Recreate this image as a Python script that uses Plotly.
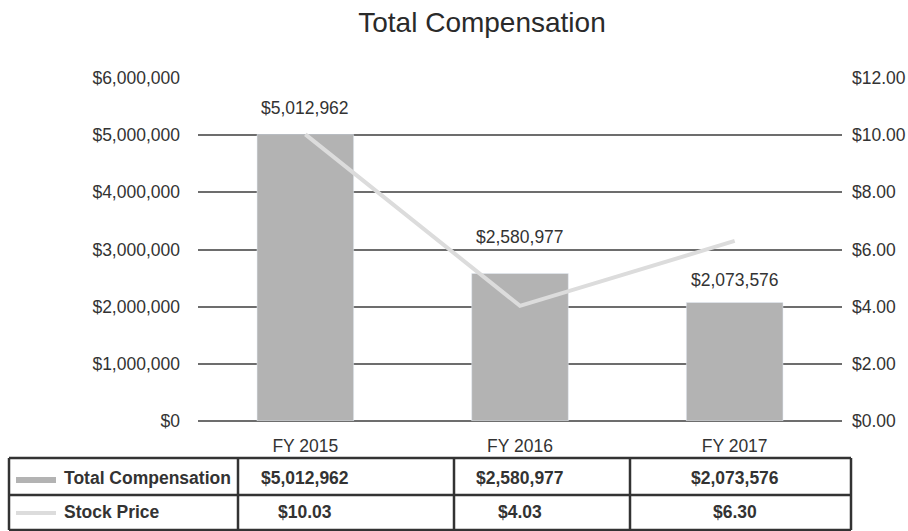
import plotly.graph_objects as go

categories = ["FY 2015", "FY 2016", "FY 2017"]
total_comp = [5012962, 2580977, 2073576]
stock_price = [10.03, 4.03, 6.30]
comp_labels = ["$5,012,962", "$2,580,977", "$2,073,576"]
price_labels = ["$10.03", "$4.03", "$6.30"]
row_names = ["Total Compensation", "Stock Price"]

BAR = "#b3b3b3"
LINE = "#dcdcdc"
TXT = "#333333"
GRID = "#6d6d6d"
FONT = "Liberation Sans, Arial, sans-serif"
FS = 17.5

W, H = 908, 531
L, R, T, B = 198, 66, 78, 110
pw, ph = W - L - R, H - T - B

def ppx(x):
    return (x - L) / pw

def ppy(y):
    return (H - B - y) / ph

fig = go.Figure()
fig.add_trace(go.Bar(x=categories, y=total_comp, marker_color=BAR, width=0.45,
                     name="Total Compensation", yaxis="y"))
fig.add_trace(go.Scatter(x=categories, y=stock_price, mode="lines",
                         line=dict(color=LINE, width=4), name="Stock Price", yaxis="y2"))

label_shifts = [26, 36, 22]
for c, v, t, s in zip(categories, total_comp, comp_labels, label_shifts):
    fig.add_annotation(x=c, y=v, xref="x", yref="y", text=t, showarrow=False,
                       yshift=s, font=dict(size=FS, color=TXT, family=FONT))

col_edges = [9, 238, 454, 630, 851]
row_edges = [458, 495, 530]
shapes = []
for x in col_edges:
    shapes.append(dict(type="line", xref="paper", yref="paper", x0=ppx(x), x1=ppx(x),
                       y0=ppy(row_edges[0]), y1=ppy(row_edges[-1]),
                       line=dict(color="#333333", width=2.5)))
for y in row_edges:
    shapes.append(dict(type="line", xref="paper", yref="paper", x0=ppx(col_edges[0]), x1=ppx(col_edges[-1]),
                       y0=ppy(y), y1=ppy(y), line=dict(color="#333333", width=2.5)))
shapes.append(dict(type="line", xref="paper", yref="paper", x0=ppx(16), x1=ppx(56),
                   y0=ppy(480), y1=ppy(480), line=dict(color=BAR, width=6)))
shapes.append(dict(type="line", xref="paper", yref="paper", x0=ppx(16), x1=ppx(56),
                   y0=ppy(513), y1=ppy(513), line=dict(color=LINE, width=4)))
fig.update_layout(shapes=shapes)

row_mid = [478, 512]
for name, y in zip(row_names, row_mid):
    fig.add_annotation(x=ppx(62), y=ppy(y), xref="paper", yref="paper", text="<b>%s</b>" % name,
                       showarrow=False, xanchor="left", yanchor="middle",
                       font=dict(size=FS, color=TXT, family=FONT))
for c, t in zip(categories, comp_labels):
    fig.add_annotation(x=c, y=ppy(row_mid[0]), xref="x", yref="paper", text="<b>%s</b>" % t,
                       showarrow=False, yanchor="middle", font=dict(size=FS, color=TXT, family=FONT))
for c, t in zip(categories, price_labels):
    fig.add_annotation(x=c, y=ppy(row_mid[1]), xref="x", yref="paper", text="<b>%s</b>" % t,
                       showarrow=False, yanchor="middle", font=dict(size=FS, color=TXT, family=FONT))

fig.update_layout(
    width=W, height=H,
    margin=dict(l=L, r=R, t=T, b=B),
    paper_bgcolor="white", plot_bgcolor="white",
    showlegend=False,
    hovermode=False,
    title=dict(text="Total Compensation", x=482 / W, xanchor="center",
               y=1 - 22 / H, yanchor="middle",
               font=dict(size=28, color="#2a2a2a", family=FONT)),
    font=dict(family=FONT, color=TXT, size=FS),
    xaxis=dict(showgrid=False, showline=False, ticks="", automargin=False,
               ticklabelstandoff=12, tickfont=dict(size=FS, color=TXT)),
    yaxis=dict(range=[0, 6001000], tickvals=[0, 1000000, 2000000, 3000000, 4000000, 5000000, 6000000],
               tickformat="$,.0f", showgrid=True, automargin=False,
               gridcolor=GRID, gridwidth=1.5, zeroline=True, zerolinecolor=GRID,
               zerolinewidth=1.5, ticks="", ticklabelstandoff=17, tickfont=dict(size=FS, color=TXT)),
    yaxis2=dict(range=[0, 12.002], tickvals=[0, 2, 4, 6, 8, 10, 12], tickformat="$.2f",
                overlaying="y", side="right", automargin=False,
                showgrid=False, zeroline=False, ticks="", ticklabelstandoff=9,
                tickfont=dict(size=FS, color=TXT)),
)

fig.write_html("out.html", config={"displayModeBar": False},
               post_script="document.body.style.margin='0';document.body.style.overflow='hidden';")
